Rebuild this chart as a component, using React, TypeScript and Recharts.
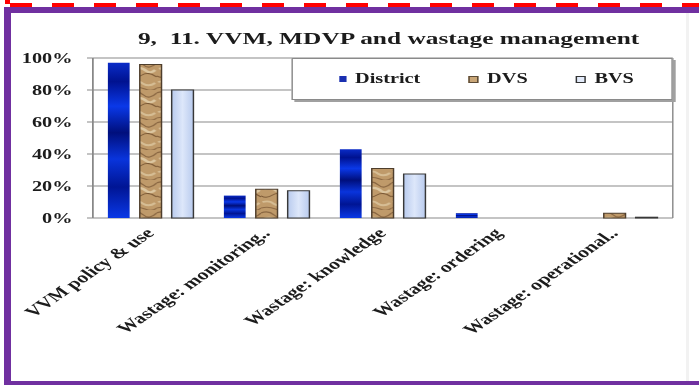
import { BarChart, Bar, XAxis, YAxis, CartesianGrid, Legend } from "recharts"

const categories = [
    "VVM policy & use",
    "Wastage: monitoring..",
    "Wastage: knowledge",
    "Wastage: ordering",
    "Wastage: operational..",
]
const seriesNames = ["District", "DVS", "BVS"]
const districtValues = [0.97, 0.14, 0.43, 0.03, 0]
const dvsValues = [0.96, 0.18, 0.31, 0, 0.03]
const bvsValues = [0.8, 0.17, 0.275, 0, 0.005]
const yTicks = [0, 0.2, 0.4, 0.6, 0.8, 1]
const edgeTicks = [0, 1, 2, 3, 4, 5]

const FONT = '"Liberation Serif", "Times New Roman", serif'
const STRETCH = 1.45
const CHART_W = 482
const CHART_H = 385

const rows = categories.map((name, i) => ({
    name,
    District: districtValues[i],
    DVS: dvsValues[i],
    BVS: bvsValues[i],
}))

const legendMarkers: Record<string, React.CSSProperties> = {
    District: { width: 5, height: 6, background: "#1a2fb0" },
    DVS: { width: 5, height: 5, background: "#c9a677", border: "1px solid #5a4a36" },
    BVS: { width: 5, height: 5, background: "#e3ebfa", border: "1px solid #333" },
}

const pct = (v: number) => `${Math.round(v * 100)}%`

const CategoryTick = ({ x, y, payload }: any) => {
    const ax = x + 3
    const ay = y + 16
    return (
        <text
            x={ax}
            y={ay}
            transform={`rotate(-45, ${ax}, ${ay})`}
            textAnchor="end"
            fontFamily={FONT}
            fontWeight="bold"
            fontSize={15}
            fill="#1c1c1c"
        >
            {payload.value}
        </text>
    )
}

const renderLegend = () => (
    <div
        style={{
            display: "flex",
            alignItems: "center",
            justifyContent: "center",
            gap: 33,
            height: "100%",
            paddingLeft: 6,
            fontFamily: FONT,
            fontWeight: "bold",
            fontSize: 14,
            color: "#1c1c1c",
        }}
    >
        {seriesNames.map((name) => (
            <span key={name} style={{ display: "flex", alignItems: "center", gap: 6 }}>
                <span style={{ display: "inline-block", ...legendMarkers[name] }} />
                {name}
            </span>
        ))}
    </div>
)

export default function App() {
    return (
        <div style={{ position: "absolute", left: 0, top: 0, width: 699, height: 385, overflow: "hidden", background: "#fff" }}>
            <div
                style={{
                    position: "absolute",
                    left: 0,
                    top: 0,
                    width: CHART_W,
                    height: CHART_H,
                    transform: `scaleX(${STRETCH})`,
                    transformOrigin: "0 0",
                }}
            >
                <div
                    style={{
                        position: "absolute",
                        left: 0,
                        top: 28,
                        width: 536,
                        textAlign: "center",
                        lineHeight: "20px",
                        fontFamily: FONT,
                        fontWeight: "bold",
                        fontSize: 17.5,
                        color: "#1c1c1c",
                        whiteSpace: "pre",
                    }}
                >
                    {"9,  11. VVM, MDVP and wastage management"}
                </div>
                <BarChart
                    width={CHART_W}
                    height={CHART_H}
                    data={rows}
                    margin={{ top: 58, right: 18, bottom: 17, left: 14 }}
                    barCategoryGap="13%"
                    barGap={7}
                >
                    <defs>
                        <linearGradient id="districtFill" x1="0" y1="0" x2="0" y2="1">
                            <stop offset="0" stopColor="#0a2cc8" />
                            <stop offset="0.12" stopColor="#001290" />
                            <stop offset="0.28" stopColor="#0a38e8" />
                            <stop offset="0.45" stopColor="#000f7c" />
                            <stop offset="0.62" stopColor="#0934dc" />
                            <stop offset="0.8" stopColor="#001594" />
                            <stop offset="1" stopColor="#0a38e6" />
                        </linearGradient>
                        {/* marbled tan texture for the DVS columns */}
                        <pattern id="dvsWood" patternUnits="userSpaceOnUse" width="18" height="30">
                            <rect width="18" height="30" fill="#bf9a6a" />
                            <path d="M0 3 Q5 0 9 5 T18 3" stroke="#8a6742" strokeWidth="1.2" fill="none" />
                            <path d="M2 9 Q7 6 11 11 Q14 14 17 10" stroke="#dcc6a0" strokeWidth="2.2" fill="none" />
                            <path d="M0 16 Q4 19 8 15 T18 17" stroke="#7d5a36" strokeWidth="1" fill="none" />
                            <path d="M1 22 Q6 20 9 24 Q13 27 17 23" stroke="#d6bd94" strokeWidth="1.8" fill="none" />
                            <path d="M0 28 Q5 26 10 29 T18 28" stroke="#8f6b45" strokeWidth="1" fill="none" />
                        </pattern>
                        <linearGradient id="bvsFill" x1="0" y1="0" x2="1" y2="0">
                            <stop offset="0" stopColor="#b9cbee" />
                            <stop offset="0.5" stopColor="#dde7fa" />
                            <stop offset="1" stopColor="#b9cbee" />
                        </linearGradient>
                    </defs>
                    <CartesianGrid xAxisId="edges" stroke="#8a8a8a" strokeWidth={1} />
                    <XAxis
                        xAxisId="edges"
                        type="number"
                        domain={[0, 5]}
                        ticks={edgeTicks}
                        tick={false}
                        tickSize={4}
                        height={0}
                        stroke="#666"
                    />
                    <XAxis
                        xAxisId="cats"
                        dataKey="name"
                        axisLine={false}
                        tickLine={false}
                        tickSize={0}
                        tickMargin={0}
                        interval={0}
                        height={150}
                        tick={<CategoryTick />}
                    />
                    <YAxis
                        domain={[0, 1]}
                        ticks={yTicks}
                        tickFormatter={pct}
                        width={50}
                        tickSize={4}
                        tickMargin={10}
                        stroke="#888"
                        tick={{ fontFamily: FONT, fontWeight: "bold", fontSize: 14, fill: "#1c1c1c" }}
                    />
                    <Legend
                        layout="horizontal"
                        verticalAlign="middle"
                        align="center"
                        content={renderLegend}
                        wrapperStyle={{
                            left: 201,
                            top: 58,
                            width: 263,
                            height: 42,
                            boxSizing: "border-box",
                            background: "#fff",
                            border: "1px solid #8a8a8a",
                            boxShadow: "2px 2px 0 #a0a0a0",
                        }}
                    />
                    <Bar xAxisId="cats" dataKey="District" fill="url(#districtFill)" isAnimationActive={false} />
                    <Bar xAxisId="cats" dataKey="DVS" fill="url(#dvsWood)" stroke="#4e3e2c" strokeWidth={1} isAnimationActive={false} />
                    <Bar xAxisId="cats" dataKey="BVS" fill="url(#bvsFill)" stroke="#383838" strokeWidth={1} isAnimationActive={false} />
                </BarChart>
            </div>
            {/* page frame */}
            <div style={{ position: "absolute", left: 5, top: 0, width: 5, height: 4, background: "#ff0000" }} />
            <div
                style={{
                    position: "absolute",
                    left: 10,
                    top: 3,
                    width: 689,
                    height: 4,
                    background: "repeating-linear-gradient(to right, #ff0000 0 22px, transparent 22px 42px)",
                }}
            />
            <div style={{ position: "absolute", left: 4, top: 7, width: 695, height: 6, background: "#7030a0" }} />
            <div style={{ position: "absolute", left: 4, top: 7, width: 7, height: 378, background: "#7030a0" }} />
            <div style={{ position: "absolute", left: 4, top: 381, width: 695, height: 4, background: "#7030a0" }} />
            <div style={{ position: "absolute", left: 686, top: 13, width: 3, height: 368, background: "#f2f2f2" }} />
        </div>
    )
}
